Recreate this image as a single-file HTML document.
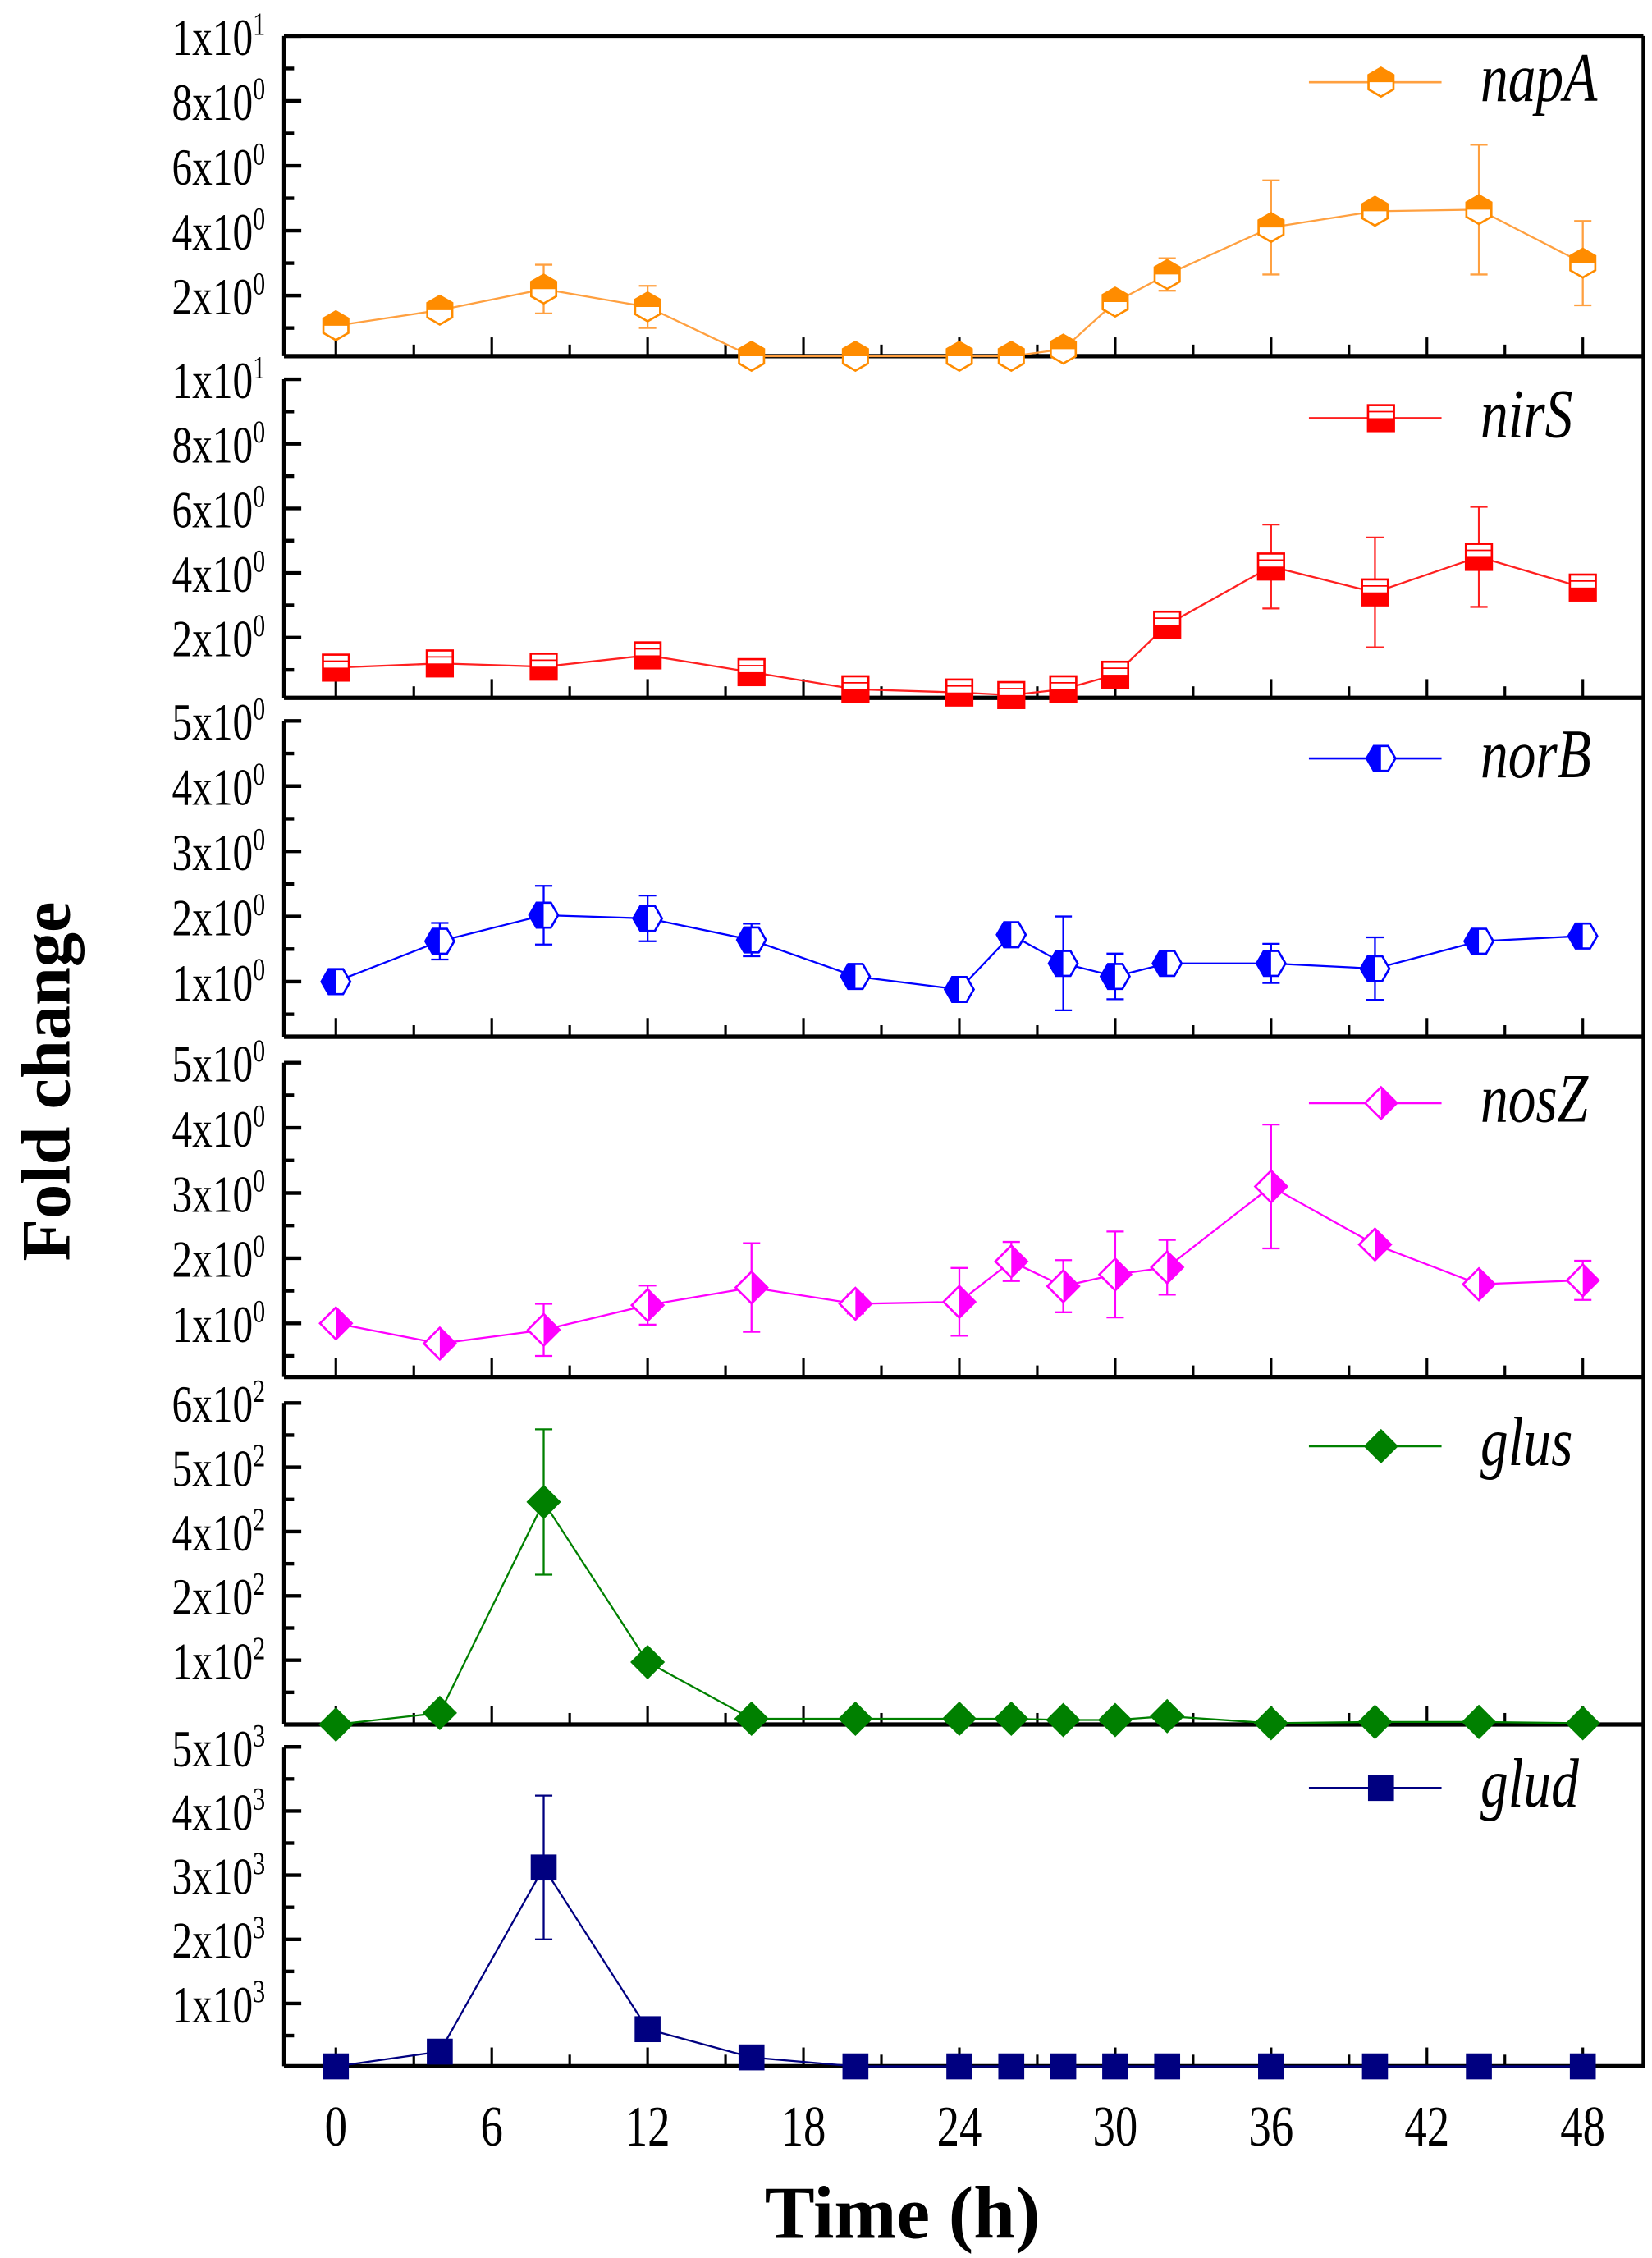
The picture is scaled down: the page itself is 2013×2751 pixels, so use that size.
<!DOCTYPE html>
<html><head><meta charset="utf-8"><style>html,body{margin:0;padding:0;background:#fff}svg{display:block}</style></head>
<body>
<svg id="chart" xmlns="http://www.w3.org/2000/svg" width="2013" height="2751" viewBox="0 0 1146 1566" preserveAspectRatio="none">
<rect x="0" y="0" width="1146" height="1566" fill="#fff"/>
</svg>
<script>
const times = [0,4,8,12,16,20,24,26,28,30,32,36,40,44,48];
const napA = [1.07,1.55,2.2,1.65,0.13,0.13,0.13,0.13,0.35,1.8,2.65,4.1,4.6,4.65,3.0];
const napAErr = [0.1,0.3,0.75,0.65,0,0,0,0,0.1,0.2,0.5,1.45,0.15,2.0,1.3];
const nirS = [1.07,1.2,1.1,1.45,0.93,0.4,0.3,0.22,0.4,0.85,2.4,4.2,3.4,4.5,3.55];
const nirSErr = [0.1,0.1,0.1,0.15,0.1,0.05,0.05,0.05,0.1,0.1,0.15,1.3,1.7,1.55,0.15];
const norB = [1.0,1.62,2.02,1.97,1.64,1.08,0.88,1.72,1.28,1.08,1.28,1.28,1.2,1.62,1.7];
const norBErr = [0.05,0.28,0.45,0.35,0.25,0.05,0.05,0.1,0.72,0.35,0.1,0.3,0.48,0.1,0.1];
const nosZ = [1.0,0.69,0.9,1.28,1.55,1.3,1.33,1.95,1.57,1.75,1.86,3.1,2.21,1.6,1.66];
const nosZErr = [0.05,0.05,0.4,0.3,0.68,0.15,0.52,0.3,0.4,0.66,0.42,0.95,0.1,0.1,0.3];
const glus = [0.0,0.18,3.46,0.97,0.09,0.09,0.09,0.09,0.07,0.07,0.13,0.02,0.04,0.04,0.02];
const glusErr = [0,0,1.13,0,0,0,0,0,0,0,0,0,0,0,0];
const glud = [0.02,0.25,3.12,0.6,0.16,0.02,0.02,0.02,0.02,0.02,0.02,0.02,0.02,0.02,0.02];
const gludErr = [0,0,1.12,0,0,0,0,0,0,0,0,0,0,0,0];
const xTickValues = [0,6,12,18,24,30,36,42,48];
const napATicks = [2,4,6,8,10];
const napALabels = [["2","0"],["4","0"],["6","0"],["8","0"],["1","1"]];
const nirSTicks = [2,4,6,8,10];
const nirSLabels = [["2","0"],["4","0"],["6","0"],["8","0"],["1","1"]];
const norBTicks = [1,2,3,4,5];
const norBLabels = [["1","0"],["2","0"],["3","0"],["4","0"],["5","0"]];
const nosZTicks = [1,2,3,4,5];
const nosZLabels = [["1","0"],["2","0"],["3","0"],["4","0"],["5","0"]];
const glusTicks = [1,2,3,4,5];
const glusLabels = [["1","2"],["2","2"],["4","2"],["5","2"],["6","2"]];
const gludTicks = [1,2,3,4,5];
const gludLabels = [["1","3"],["2","3"],["3","3"],["4","3"],["5","3"]];

const NS="http://www.w3.org/2000/svg";
const svgEl=document.getElementById('chart');
const X0=233,X1=1098,PL=197,PR=1140;
function xs(t){return X0+(X1-X0)*t/48;}
function mk(tag,attrs,parent){const e=document.createElementNS(NS,tag);for(const k in attrs)e.setAttribute(k,attrs[k]);(parent||svgEl).appendChild(e);return e;}

const panels=[
 {key:'napA',data:napA,err:napAErr,ticks:napATicks,labels:napALabels,y0:25,y1:247,zero:250,ppu:22.5,minorStep:1,color:'#ff8c00',line:'#ffa040',marker:'hexTop',legY:57},
 {key:'nirS',data:nirS,err:nirSErr,ticks:nirSTicks,labels:nirSLabels,y0:263,y1:484,zero:487,ppu:22.4,minorStep:1,color:'#ff0000',line:'#ff2020',marker:'squareBottom',legY:290},
 {key:'norB',data:norB,err:norBErr,ticks:norBTicks,labels:norBLabels,y0:500,y1:719,zero:726,ppu:45.2,minorStep:0.5,color:'#0000ff',line:'#0000ff',marker:'hexLeft',legY:526},
 {key:'nosZ',data:nosZ,err:nosZErr,ticks:nosZTicks,labels:nosZLabels,y0:737,y1:955,zero:963,ppu:45.2,minorStep:0.5,color:'#ff00ff',line:'#ff00ff',marker:'diamondRight',legY:765},
 {key:'glus',data:glus,err:glusErr,ticks:glusTicks,labels:glusLabels,y0:973,y1:1196,zero:1196,ppu:44.6,minorStep:0.5,color:'#008000',line:'#008000',marker:'diamond',legY:1003},
 {key:'glud',data:glud,err:gludErr,ticks:gludTicks,labels:gludLabels,y0:1212,y1:1433,zero:1434,ppu:44.5,minorStep:0.5,color:'#000080',line:'#000080',marker:'square',legY:1240}
];

function drawMarker(g,type,cx,cy,c){
  if(type==='hexTop'||type==='hexLeft'){
    const r=10;
    const pts=[];for(let i=0;i<6;i++){const a=Math.PI/180*(60*i+(type==='hexTop'?30:0));pts.push([cx+r*Math.cos(a),cy+r*Math.sin(a)]);}
    mk('polygon',{points:pts.map(p=>p.join(',')).join(' '),fill:'#fff',stroke:c,'stroke-width':1.5},g);
    if(type==='hexTop'){
      mk('polygon',{points:`${cx-r*0.866},${cy} ${cx-r*0.866},${cy-r/2} ${cx},${cy-r} ${cx+r*0.866},${cy-r/2} ${cx+r*0.866},${cy}`,fill:c},g);
    } else {
      mk('polygon',{points:`${cx},${cy-r*0.866} ${cx-r/2},${cy-r*0.866} ${cx-r},${cy} ${cx-r/2},${cy+r*0.866} ${cx},${cy+r*0.866}`,fill:c},g);
    }
  } else if(type==='squareBottom'){
    const s=9;
    mk('rect',{x:cx-s,y:cy-s,width:2*s,height:2*s,fill:'#fff',stroke:c,'stroke-width':1.5},g);
    mk('rect',{x:cx-s,y:cy,width:2*s,height:s,fill:c},g);
    mk('line',{x1:cx-s,y1:cy-s/2,x2:cx+s,y2:cy-s/2,stroke:c,'stroke-width':1},g);
  } else if(type==='diamondRight'){
    const r=11;
    mk('polygon',{points:`${cx},${cy-r} ${cx+r},${cy} ${cx},${cy+r} ${cx-r},${cy}`,fill:'#fff',stroke:c,'stroke-width':1.5},g);
    mk('polygon',{points:`${cx},${cy-r} ${cx+r},${cy} ${cx},${cy+r}`,fill:c},g);
  } else if(type==='diamond'){
    const r=12;
    mk('polygon',{points:`${cx},${cy-r} ${cx+r},${cy} ${cx},${cy+r} ${cx-r},${cy}`,fill:c},g);
  } else {
    const s=9;
    mk('rect',{x:cx-s,y:cy-s,width:2*s,height:2*s,fill:c},g);
  }
}

const frameTop=mk('line',{x1:PL,y1:25,x2:PR,y2:25,stroke:'#000','stroke-width':2.5});


const frameRight=mk('line',{x1:PR,y1:25,x2:PR,y2:1434,stroke:'#000','stroke-width':2.5});



panels.forEach(p=>{
  const g=mk('g',{});
  
  
  const ys=v=>p.zero-v*p.ppu;
  const ya=mk('line',{x1:PL,y1:p.y0,x2:PL,y2:p.y1,stroke:'#000','stroke-width':2.5},g);
  
  
  const xa=mk('line',{x1:PL,y1:p.y1,x2:PR,y2:p.y1,stroke:'#000','stroke-width':3},g);
  
  
  const maxT=p.ticks[p.ticks.length-1];
  for(let v=p.minorStep;v<maxT+0.001;v+=p.minorStep){
    const yy=ys(v); if(yy<p.y0-1) continue;
    const major=p.ticks.some(t=>Math.abs(t-v)<1e-6);
    mk('line',{x1:PL,y1:yy,x2:PL+(major?12:7),y2:yy,stroke:'#000','stroke-width':2.5},g);
  }
  p.ticks.forEach((t,i)=>{
    const yy=Math.max(ys(t),p.y0);
    const tx=mk('text',{x:0,y:0,transform:`translate(184,${yy+13}) scale(0.78,1)`,'text-anchor':'end','font-family':'Liberation Serif, serif','font-size':36,fill:'#000'},g);
    
    
    tx.textContent=p.labels[i][0]+'x10';
    const sp=document.createElementNS(NS,'tspan');sp.setAttribute('dy','-14');sp.setAttribute('font-size','22');sp.textContent=p.labels[i][1];tx.appendChild(sp);
  });
  for(let t=0;t<=48;t+=3){
    const major=t%6===0;
    mk('line',{x1:xs(t),y1:p.y1,x2:xs(t),y2:p.y1-(major?13:8),stroke:'#000','stroke-width':1.8},g);
  }
  const pts=p.data.map((v,i)=>xs(times[i])+','+ys(v)).join(' ');
  const pl=mk('polyline',{points:pts,fill:'none',stroke:p.line,'stroke-width':1.3},g);
  
  
  p.err.forEach((e,i)=>{
    if(e<=0) return;
    const cx=xs(times[i]),ey1=ys(p.data[i]+e),ey2=ys(p.data[i]-e);
    const eg=mk('g',{stroke:p.line,'stroke-width':1.3},g);
    
    
    mk('line',{x1:cx,y1:ey1,x2:cx,y2:ey2},eg);
    mk('line',{x1:cx-6,y1:ey1,x2:cx+6,y2:ey1},eg);
    mk('line',{x1:cx-6,y1:ey2,x2:cx+6,y2:ey2},eg);
  });
  p.data.forEach((v,i)=>{
    const mg=mk('g',{},g);
    
    
    drawMarker(mg,p.marker,xs(times[i]),ys(v),p.color);
  });
  const lg=mk('g',{},g);
  
  
  mk('line',{x1:908,y1:p.legY,x2:1000,y2:p.legY,stroke:p.line,'stroke-width':1.5},lg);
  drawMarker(lg,p.marker,958,p.legY,p.color);
  const lt=mk('text',{x:0,y:0,transform:`translate(1027,${p.legY+13}) scale(0.8,1)`,'font-family':'Liberation Serif, serif','font-style':'italic','font-size':48,fill:'#000'},lg);
  lt.textContent=p.key;
});

xTickValues.forEach(t=>{
  const tx=mk('text',{x:0,y:0,transform:`translate(${xs(t)},1488) scale(0.78,1)`,'text-anchor':'middle','font-family':'Liberation Serif, serif','font-size':40,fill:'#000'});
  
  
  tx.textContent=t;
});
const xt=mk('text',{x:626,y:1552,'text-anchor':'middle','font-family':'Liberation Serif, serif','font-weight':'bold','font-size':52,fill:'#000'});


xt.textContent='Time (h)';
const yt=mk('text',{x:0,y:0,transform:'translate(48,750) rotate(-90)','text-anchor':'middle','font-family':'Liberation Serif, serif','font-weight':'bold','font-size':48,fill:'#000'});


yt.textContent='Fold change';
</script>
</body></html>
